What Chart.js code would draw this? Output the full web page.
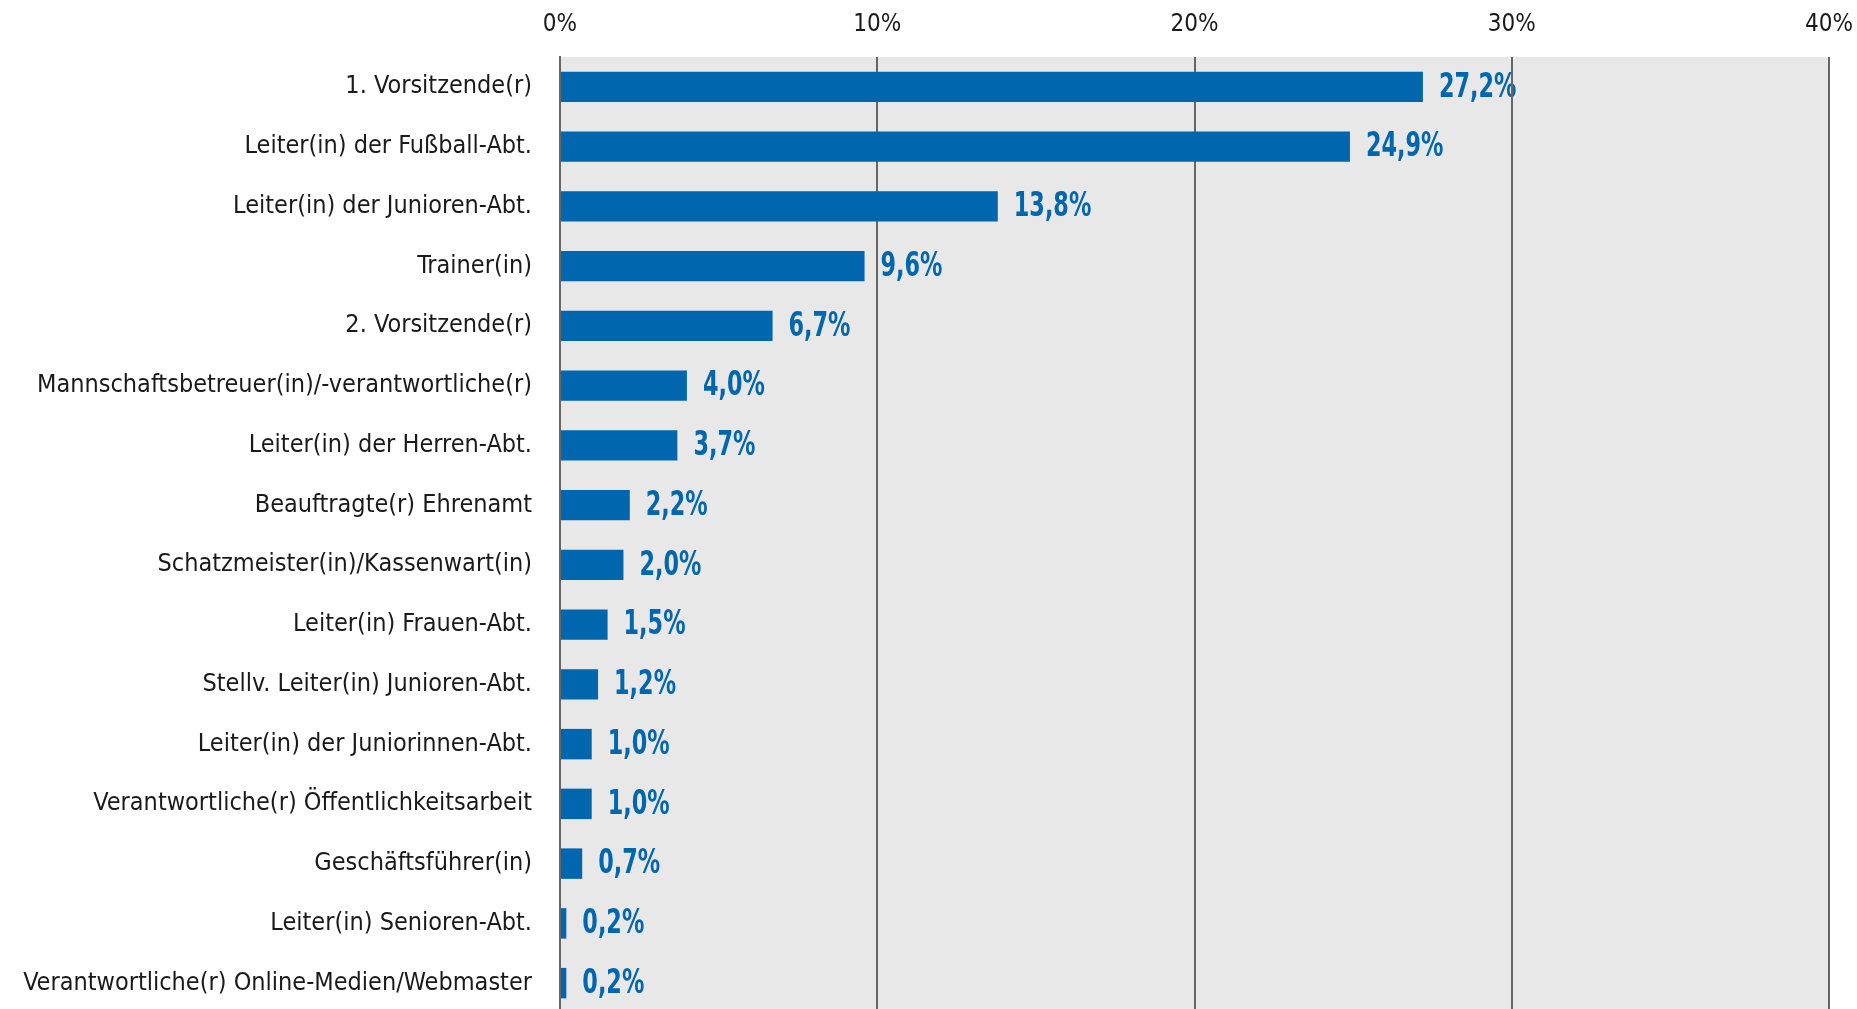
<!DOCTYPE html>
<html>
<head>
<meta charset="utf-8">
<script src="https://cdn.jsdelivr.net/npm/chart.js@4/dist/chart.umd.min.js"></script>
<style>
  html, body { margin: 0; padding: 0; background: #ffffff; overflow: hidden; }
  #wrap { width: 1857px; height: 1009px; position: relative; }
</style>
</head>
<body>
<div id="wrap"><canvas id="c" width="1857" height="1009"></canvas></div>
<script>
const categories = [
  "1. Vorsitzende(r)",
  "Leiter(in) der Fußball-Abt.",
  "Leiter(in) der Junioren-Abt.",
  "Trainer(in)",
  "2. Vorsitzende(r)",
  "Mannschaftsbetreuer(in)/-verantwortliche(r)",
  "Leiter(in) der Herren-Abt.",
  "Beauftragte(r) Ehrenamt",
  "Schatzmeister(in)/Kassenwart(in)",
  "Leiter(in) Frauen-Abt.",
  "Stellv. Leiter(in) Junioren-Abt.",
  "Leiter(in) der Juniorinnen-Abt.",
  "Verantwortliche(r) Öffentlichkeitsarbeit",
  "Geschäftsführer(in)",
  "Leiter(in) Senioren-Abt.",
  "Verantwortliche(r) Online-Medien/Webmaster"
];
const shares = [27.2, 24.9, 13.8, 9.6, 6.7, 4.0, 3.7, 2.2, 2.0, 1.5, 1.2, 1.0, 1.0, 0.7, 0.2, 0.2];
const axisTicks = [0, 10, 20, 30, 40];

const FONT = "'DejaVu Sans Condensed', 'DejaVu Sans', sans-serif";
const BLUE = '#0066ae';

// the plot area in the original runs slightly past the bottom edge of the image
const extendPlot = {
  id: 'extendPlot',
  afterLayout(chart) {
    const extra = 4;
    const ca = chart.chartArea;
    ca.bottom = chart.height + extra;
    ca.height = ca.bottom - ca.top;
    const y = chart.scales.y;
    y.bottom = ca.bottom;
    y.height = y.bottom - y.top;
    y.configure();
  }
};

const bgPlugin = {
  id: 'bgAndLabels',
  beforeDraw(chart) {
    const { ctx, chartArea } = chart;
    ctx.save();
    ctx.fillStyle = '#e8e8e8';
    ctx.fillRect(chartArea.left, chartArea.top, chartArea.right - chartArea.left, chartArea.bottom - chartArea.top);
    const meta = chart.getDatasetMeta(0);
    ctx.font = "bold 34px " + FONT;
    ctx.fillStyle = BLUE;
    ctx.textAlign = 'left';
    ctx.textBaseline = 'middle';
    meta.data.forEach((bar, i) => {
      const v = chart.data.datasets[0].data[i];
      const txt = v.toFixed(1).replace('.', ',') + '%';
      ctx.save();
      ctx.translate(bar.x + 16, bar.y + 1);
      ctx.scale(0.73, 1);
      ctx.fillText(txt, 0, 0);
      ctx.restore();
    });
    ctx.restore();
  }
};

new Chart(document.getElementById('c'), {
  type: 'bar',
  data: {
    labels: categories,
    datasets: [{
      data: shares,
      backgroundColor: BLUE,
      borderWidth: 0,
      categoryPercentage: 1.0,
      barPercentage: 0.51
    }]
  },
  options: {
    indexAxis: 'y',
    responsive: false,
    animation: false,
    layout: { padding: { left: 0, right: 28, top: 0, bottom: 0 } },
    plugins: {
      legend: { display: false },
      tooltip: { enabled: false }
    },
    scales: {
      x: {
        position: 'top',
        min: axisTicks[0],
        max: axisTicks[axisTicks.length - 1],
        afterBuildTicks(scale) { scale.ticks = axisTicks.map(v => ({ value: v })); },
        afterFit(scale) { scale.height = 57; scale.paddingLeft = 0; scale.paddingRight = 0; },
        ticks: {
          padding: 18,
          color: '#1a1a1a',
          font: { family: FONT, size: 24 },
          callback: v => v + '%'
        },
        grid: { color: '#666666', lineWidth: 2, drawTicks: false },
        border: { display: false }
      },
      y: {
        afterFit(scale) { scale.width = 560; scale.paddingTop = 0; scale.paddingBottom = 0; },
        ticks: {
          padding: 28,
          color: '#1a1a1a',
          font: { family: FONT, size: 25 }
        },
        grid: { display: false, drawTicks: false },
        border: { display: true, color: '#666666', width: 2 }
      }
    }
  },
  plugins: [extendPlot, bgPlugin]
});
</script>
</body>
</html>
